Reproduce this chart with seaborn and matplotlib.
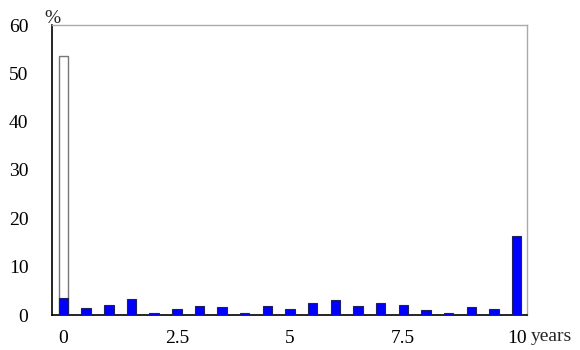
import matplotlib
matplotlib.use("Agg")
import matplotlib.pyplot as plt
import seaborn as sns
import pandas as pd

sns.set_style("white")
plt.rcParams['font.family'] = ['Liberation Serif', 'DejaVu Serif']

years = [0, 0.5, 1, 1.5, 2, 2.5, 3, 3.5, 4, 4.5, 5, 5.5, 6, 6.5, 7, 7.5, 8, 8.5, 9, 9.5, 10]
white_pct = [53.5] + [0] * 20
blue_pct = [3.6, 1.5, 2.1, 3.4, 0.4, 1.2, 1.9, 1.7, 0.5, 1.9, 1.2, 2.5, 3.1, 1.8, 2.5, 2.1, 1.0, 0.35, 1.7, 1.3, 16.3]
xtick_vals = [0, 2.5, 5, 7.5, 10]
xtick_labels = ["0", "2.5", "5", "7.5", "10"]

df = pd.DataFrame({"year": years, "white": white_pct, "blue": blue_pct})

W, H = 580, 350
fig = plt.figure(figsize=(5.8, 3.5), dpi=100)
ax = fig.add_axes([52 / W, 35 / H, 475 / W, 290 / H])

sns.barplot(data=df, x="year", y="white", native_scale=True, width=0.42,
            color="white", edgecolor="#777777", linewidth=1, ax=ax, zorder=2)
sns.barplot(data=df, x="year", y="blue", native_scale=True, width=0.42,
            color="#0000ff", saturation=1, edgecolor="#202060", linewidth=0.8, ax=ax, zorder=3)

ax.set_xlim(-0.254, 10.23)
ax.set_ylim(0, 60)
ax.set_yticks([0, 10, 20, 30, 40, 50, 60])
ax.set_xticks(xtick_vals)
ax.set_xticklabels(xtick_labels)
ax.tick_params(axis="both", direction="in", colors="#888888", labelcolor="black",
               labelsize=14, length=6, width=1)
ax.tick_params(axis="x", pad=11)
ax.tick_params(axis="y", pad=17)
ax.set_xlabel("")
ax.set_ylabel("")

for side in ["left", "bottom"]:
    ax.spines[side].set_color("black")
    ax.spines[side].set_linewidth(1.2)
for side in ["top", "right"]:
    ax.spines[side].set_color("#aaaaaa")
    ax.spines[side].set_linewidth(1)

fig.text(44 / W, 1 - 23 / H, "%", fontsize=14, ha="left", va="baseline")
fig.text(531 / W, 1 - 341 / H, "years", fontsize=14, ha="left", va="baseline")

fig.savefig("out.png", dpi=100)
